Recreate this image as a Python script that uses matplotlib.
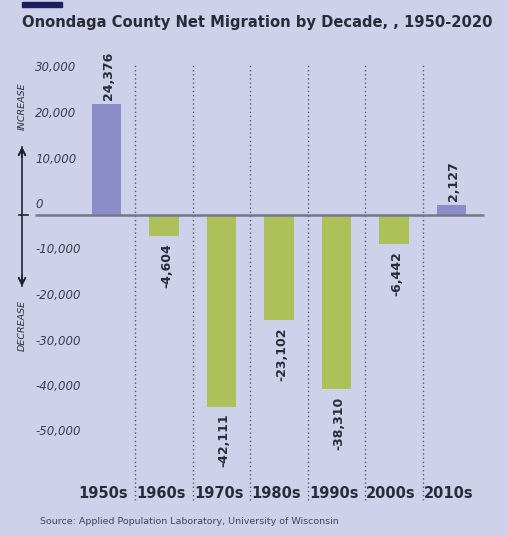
import matplotlib.pyplot as plt
from matplotlib.patches import Rectangle

# datos: migracion neta por decada
decades = ['1950s', '1960s', '1970s', '1980s', '1990s', '2000s', '2010s']
net_migration = [24376, -4604, -42111, -23102, -38310, -6442, 2127]
y_ticks = [30000, 20000, 10000, 0, -10000, -20000, -30000, -40000, -50000]

bg = '#cdd1ea'
purple = '#8b8dc9'
green = '#adc05a'
dark = '#2b2b38'

W, H = 508, 536
fig = plt.figure(figsize=(W / 100, H / 100), dpi=100, facecolor=bg)

# ejes: centros de barra en px 106.5 + 57.5*i, cero en y=215, 4.55 px por cada 1000
px_per_unit = 57.5
x0 = (30 - 106.5) / px_per_unit
x1 = (490 - 106.5) / px_per_unit
k = 4.55 / 1000
ytop = (215 - 55) / k
ybot = -(510 - 215) / k
ax = fig.add_axes([30 / W, (H - 510) / H, 460 / W, 455 / H])
ax.set_facecolor(bg)
ax.set_xlim(x0, x1)
ax.set_ylim(ybot, ytop)
ax.axis('off')

xs = list(range(len(decades)))
colors = [purple if v > 0 else green for v in net_migration]
ax.bar(xs, net_migration, width=0.52, color=colors, zorder=2)

# linea del cero
ax.hlines(0, (35 - 106.5) / px_per_unit, (484 - 106.5) / px_per_unit,
          color='#77778a', linewidth=1.8, zorder=3)

# divisiones punteadas entre decadas
for i in range(len(decades) - 1):
    ax.vlines(i + 0.5, -(500 - 215) / k, (215 - 65) / k, color='#5a5a6a',
              linewidth=1, linestyles=(0, (1, 2)), zorder=1)

# etiquetas del eje y
for t in y_ticks:
    ax.text((35 - 106.5) / px_per_unit, t + 10.5 / k, f'{t:,}', ha='left',
            va='center', fontsize=8.5, style='italic', color='#3c3c4e')

# etiquetas de decada
for i, d in enumerate(decades):
    ax.text(i - 0.05, -(493 - 215) / k, d, ha='center', va='center',
            fontsize=10.5, fontweight='bold', color=dark)

# valores sobre / debajo de cada barra
for i, v in enumerate(net_migration):
    if v > 0:
        ax.annotate(f'{v:,}', (i, v), xytext=(1.5, 3), textcoords='offset points',
                    rotation=90, ha='center', va='bottom', fontsize=9,
                    fontweight='semibold', color=dark)
    else:
        ax.annotate(f'{v:,}', (i, v), xytext=(2, -5), textcoords='offset points',
                    rotation=90, ha='center', va='top', fontsize=9,
                    fontweight='semibold', color=dark)

# titulo y barra decorativa
fig.patches.append(Rectangle((22 / W, 1 - 7 / H), 40 / W, 5 / H,
                             transform=fig.transFigure, color='#1b1f5e'))
fig.text(22 / W, 1 - 22 / H, 'Onondaga County Net Migration by Decade, , 1950-2020',
         ha='left', va='center', fontsize=10.6, fontweight='bold', color=dark)

# flecha aumento / disminucion
ax_x = 22 / W
fig.add_artist(plt.Line2D([ax_x, ax_x], [1 - 147 / H, 1 - 286 / H],
                          transform=fig.transFigure, color='#222230', linewidth=1.2))
ax_arrow = dict(arrowstyle='->', color='#222230', lw=1.2, mutation_scale=12)
fig.add_artist(plt.annotate('', xy=(ax_x, 1 - 144 / H), xytext=(ax_x, 1 - 160 / H),
                            xycoords='figure fraction', arrowprops=ax_arrow))
fig.add_artist(plt.annotate('', xy=(ax_x, 1 - 289 / H), xytext=(ax_x, 1 - 273 / H),
                            xycoords='figure fraction', arrowprops=ax_arrow))
fig.add_artist(plt.Line2D([19 / W, 28 / W], [1 - 215 / H, 1 - 215 / H],
                          transform=fig.transFigure, color='#222230', linewidth=1.2))
fig.text(ax_x, 1 - 106 / H, 'INCREASE', rotation=90, ha='center', va='center',
         fontsize=6.8, style='italic', color=dark)
fig.text(ax_x, 1 - 325 / H, 'DECREASE', rotation=90, ha='center', va='center',
         fontsize=6.8, style='italic', color=dark)

# fuente
fig.text(40 / W, 1 - 521 / H,
         'Source: Applied Population Laboratory, University of Wisconsin',
         ha='left', va='center', fontsize=6.8, color='#444455')

fig.savefig('out.png', dpi=100, facecolor=bg)
